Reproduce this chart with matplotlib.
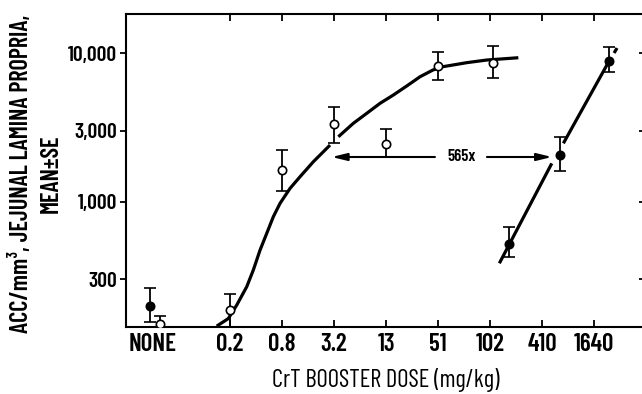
"""Recreation of the CrT booster dose-response chart (ACC counts vs. dose)."""

import matplotlib

matplotlib.use("Agg")
import matplotlib.pyplot as plt
from matplotlib.ticker import FixedLocator, NullLocator

plt.rcParams["font.family"] = ["Barlow Condensed", "Roboto Condensed", "DejaVu Sans"]

# ---------------------------------------------------------------------------
# Data (x is the position index of the dose category, NONE sits left of 0.2)
# ---------------------------------------------------------------------------
dose_labels = ["NONE", "0.2", "0.8", "3.2", "13", "51", "102", "410", "1640"]
dose_pos = [-1.48, 0, 1, 2, 3, 4, 5, 6, 7]

y_ticks = [300, 1000, 3000, 10000]
y_tick_labels = ["300", "1,000", "3,000", "10,000"]

# open circles
open_x = [-1.35, 0, 1, 2, 3, 4, 5.06]
open_mean = [150, 186, 1630, 3330, 2440, 8170, 8570]
open_lo = [130, 134, 1178, 2477, 1995, 6580, 6790]
open_hi = [170, 238, 2220, 4330, 3075, 10150, 11150]

# filled circles
filled_x = [-1.54, 5.37, 6.35, 7.29]
filled_mean = [198, 518, 2056, 8830]
filled_lo = [155, 423, 1603, 7450]
filled_hi = [262, 673, 2717, 10970]

# fitted curve through the open circles (drawn in two pieces)
curve_a_x = [-0.256, -0.033, 0.129, 0.321, 0.448, 0.577, 0.706, 0.833,
             0.962, 1.154, 1.346, 1.602, 1.923]
curve_a_y = [145, 163, 201, 267, 346, 471, 611, 791,
             973, 1227, 1469, 1854, 2400]
curve_b_x = [2.083, 2.371, 2.629, 2.885, 3.140, 3.398, 3.654, 3.904,
             4.096, 4.552, 4.937, 5.544]
curve_b_y = [2730, 3363, 3926, 4585, 5212, 5998, 6924, 7690,
             8090, 8610, 8970, 9295]

# straight line through the filled circles (three pieces)
line_segments = [
    ([5.179, 6.187], [384, 1807]),
    ([6.410, 7.269], [2466, 8570]),
    ([7.385, 7.442], [10000, 10800]),
]

# shift arrow
arrow_y = 1995
arrow_left = (3.94, 1.956)   # from, to
arrow_right = (4.94, 6.19)
shift_label = "565x"
shift_label_x = 4.46

x_label = "CrT BOOSTER DOSE (mg/kg)"
y_label = "ACC/mm³, JEJUNAL LAMINA PROPRIA,\nMEAN±SE"


fig = plt.figure(figsize=(6.42, 3.94), dpi=100)
ax = fig.add_axes([0.1963, 0.170, 0.8084, 0.7944])
ax.set_yscale("log")
ax.set_xlim(-2.0, 7.98)
ax.set_ylim(143, 18300)

lw_curve = 2.3
ax.plot(curve_a_x, curve_a_y, color="black", lw=lw_curve, solid_capstyle="butt")
ax.plot(curve_b_x, curve_b_y, color="black", lw=lw_curve, solid_capstyle="butt")
for xs, ys in line_segments:
    ax.plot(xs, ys, color="black", lw=lw_curve, solid_capstyle="butt")

err_kw = dict(fmt="o", ecolor="black", elinewidth=1.3, capsize=4, capthick=1.3,
              markersize=6, markeredgewidth=1.2, markeredgecolor="black", zorder=3)
ax.errorbar(open_x, open_mean,
            yerr=[[m - lo for m, lo in zip(open_mean, open_lo)],
                  [hi - m for m, hi in zip(open_mean, open_hi)]],
            markerfacecolor="white", **err_kw)
ax.errorbar(filled_x, filled_mean,
            yerr=[[m - lo for m, lo in zip(filled_mean, filled_lo)],
                  [hi - m for m, hi in zip(filled_mean, filled_hi)]],
            markerfacecolor="black", **err_kw)

# arrows and the shift factor
arrow_kw = dict(arrowstyle="-|>,head_length=0.9,head_width=0.22",
                color="black", lw=1.5, shrinkA=0, shrinkB=0)
ax.annotate("", xy=(arrow_left[1], arrow_y), xytext=(arrow_left[0], arrow_y),
            arrowprops=arrow_kw)
ax.annotate("", xy=(arrow_right[1], arrow_y), xytext=(arrow_right[0], arrow_y),
            arrowprops=arrow_kw)
ax.text(shift_label_x, arrow_y, shift_label, ha="center", va="center",
        fontsize=12, fontweight="semibold")

# axes styling
for side in ("left", "bottom", "top", "right"):
    ax.spines[side].set_linewidth(1.5)

ax.xaxis.set_major_locator(FixedLocator(dose_pos))
ax.set_xticklabels(dose_labels, fontsize=18, fontweight="semibold")
ax.yaxis.set_major_locator(FixedLocator(y_ticks))
ax.yaxis.set_minor_locator(NullLocator())
ax.set_yticklabels(y_tick_labels, fontsize=15.5, fontweight="semibold")

ax.tick_params(axis="x", direction="in", top=True, length=5, width=1.3, pad=4)
ax.tick_params(axis="y", direction="out", length=4.5, width=1.3, pad=2)
# NONE has no tick mark
ax.xaxis.get_major_ticks()[0].tick1line.set_visible(False)
ax.xaxis.get_major_ticks()[0].tick2line.set_visible(False)

right = ax.secondary_yaxis("right")
right.yaxis.set_major_locator(FixedLocator(y_ticks))
right.yaxis.set_minor_locator(NullLocator())
right.set_yticklabels([])
right.tick_params(direction="in", length=4.5, width=1.3)
right.spines["right"].set_linewidth(1.5)

ax.set_xlabel(x_label, fontsize=17.7, labelpad=9)
ax.set_ylabel(y_label, fontsize=17.5, fontweight="semibold", linespacing=1.4)
ax.yaxis.set_label_coords(-0.121, 0.49)

fig.savefig("out.png", dpi=100)
